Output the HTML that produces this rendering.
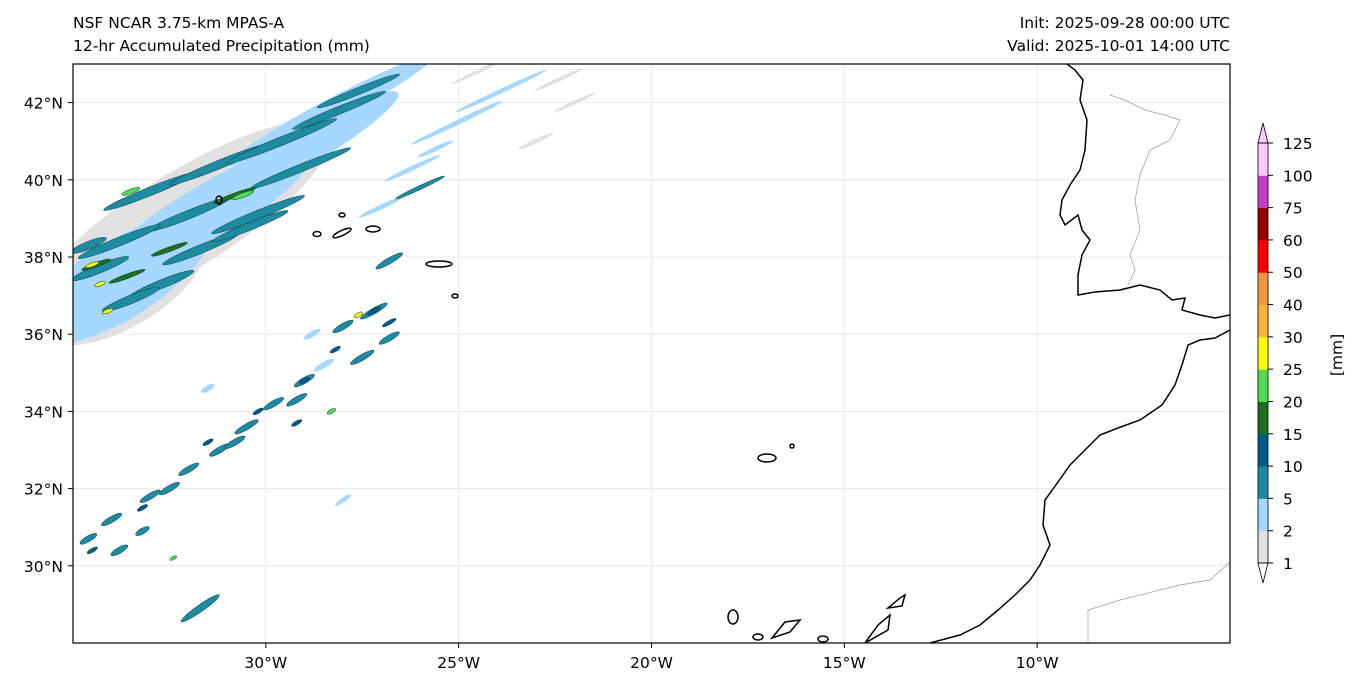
<!DOCTYPE html>
<html><head><meta charset="utf-8">
<style>
body{margin:0;background:#fff;width:1361px;height:687px;overflow:hidden}
svg text{font-family:"DejaVu Sans","Liberation Sans",sans-serif;font-size:15.5px;fill:#000}
</style></head>
<body>
<svg id="chart" width="1361" height="687" xmlns="http://www.w3.org/2000/svg">
<text x="73" y="28">NSF NCAR 3.75-km MPAS-A</text>
<text x="73" y="51">12-hr Accumulated Precipitation (mm)</text>
<text x="1230" y="28" text-anchor="end">Init: 2025-09-28 00:00 UTC</text>
<text x="1230" y="51" text-anchor="end">Valid: 2025-10-01 14:00 UTC</text>
<defs><clipPath id="clip"><rect x="73" y="64" width="1157" height="579"/></clipPath></defs>
<g id="grid"></g>
<g id="precip" clip-path="url(#clip)"></g>
<g clip-path="url(#clip)" fill="none" stroke="#000" stroke-width="1.5">
<path d="M1067,64 L1075,70 L1083,80 L1080,100 L1087,120 L1085,150 L1080,170 L1070,185 L1062,200 L1060,215 L1065,225 L1078,215 L1082,230 L1090,240 L1082,255 L1078,275 L1078,295 L1095,292 L1120,290 L1140,285 L1160,290 L1172,300 L1185,298 L1182,310 L1200,315 L1215,318 L1230,315"/>
<path d="M1230,330 L1215,338 L1200,340 L1188,345 L1182,365 L1175,385 L1162,405 L1140,420 L1118,428 L1100,435 L1085,450 L1070,465 L1058,482 L1045,500 L1043,525 L1050,545 L1040,565 L1030,580 L1015,595 L998,610 L980,625 L960,635 L930,643"/>
<path stroke="#999" stroke-width="0.7" d="M1110,95 L1125,100 L1145,110 L1165,115 L1180,120 L1170,140 L1150,150 L1140,175 L1135,200 L1140,230 L1130,255 L1135,270 L1128,285"/>
<path stroke="#999" stroke-width="0.7" d="M1088,643 L1088,610 L1120,600 L1180,585 L1210,580 L1230,562"/>
<ellipse cx="342" cy="215" rx="3" ry="2"/>
<ellipse cx="342" cy="233" rx="10" ry="2.5" transform="rotate(-25 342 233)"/>
<ellipse cx="317" cy="234" rx="4" ry="2.5"/>
<ellipse cx="373" cy="229" rx="7" ry="3"/>
<ellipse cx="439" cy="264" rx="13" ry="3"/>
<ellipse cx="455" cy="296" rx="3" ry="2"/>
<ellipse cx="219" cy="200" rx="3" ry="4"/>
<ellipse cx="767" cy="458" rx="9" ry="4"/>
<ellipse cx="792" cy="446" rx="2" ry="2"/>
<ellipse cx="733" cy="617" rx="5" ry="7"/>
<path d="M772,638 L785,622 L800,620 L790,632 Z"/>
<ellipse cx="758" cy="637" rx="5" ry="3"/>
<ellipse cx="823" cy="639" rx="5" ry="3"/>
<path d="M865,643 L878,625 L890,615 L888,630 Z"/>
<path d="M888,608 L900,598 L905,595 L902,606 Z"/>
</g>
<rect x="73" y="64" width="1157" height="579" fill="none" stroke="#000" stroke-width="1.2"/>
<g id="axes"></g>
<g id="cbar"></g>
<text x="1342" y="355" text-anchor="middle" transform="rotate(-90 1342 355)">[mm]</text>
</svg>
<script>
const lonTicks=[-30,-25,-20,-15,-10];
const latTicks=[30,32,34,36,38,40,42];
const levels=[1,2,5,10,15,20,25,30,40,50,60,75,100,125];
const levelColors=["#e1e1e1","#a5d7ff","#1e8ca0","#005a8c","#1e6e1e","#50dc50","#ffff00","#fcb432","#f0963c","#ff0000","#960000","#c83cc8","#ffc8ff"];
// streaks: lon, lat, length(deg), width(deg), level index, angle(deg)
const sLon=[-32.2,-33.8,-34.0,
 -33.8,-31.7,-29.6,-28.3,-34.0,
 -33.0,-31.2,-29.6,-28.1,-32.0,-30.2,-33.8,-31.7,-34.3,-32.7,-30.4,-29.1,-27.6,-33.5,-34.6,
 -30.8,-32.5,-33.6,-34.4,
 -23.9,-25.2,-26.2,-27.0,-24.6,-22.4,-25.6,-23.0,
 -26.8,-27.2,-28.0,-27.5,-26.8,-29.0,-29.8,-30.5,-31.2,-32.0,-33.0,-34.0,-34.6,-28.5,-29.2,-30.8,-32.5,-33.8,-28.8,-31.5,-33.2,
 -27.2,-28.2,-29.0,-30.2,-31.5,-33.2,-34.5,-26.8,-29.2,
 -34.5,-33.5,-30.6,-27.6,-28.3,-34.3,-34.1,-32.4,
 -31.7,-28.0,-24.5,-22.0,-26.0];
const sLat=[38.9,37.3,36.6,
 37.4,39.0,40.5,41.8,36.7,
 39.7,40.4,41.0,41.8,39.1,39.1,38.4,38.2,37.7,37.3,38.8,40.3,42.3,36.9,38.3,
 39.6,38.2,37.5,37.8,
 42.3,41.4,40.3,39.3,41.7,42.6,40.8,41.0,
 37.9,36.6,36.2,35.4,35.9,34.8,34.2,33.6,33.0,32.5,31.8,31.2,30.7,35.2,34.3,33.2,32.0,30.4,36.0,34.6,30.9,
 36.6,35.6,34.8,34.0,33.2,31.5,30.4,36.3,33.7,
 37.8,39.7,39.6,36.5,34.0,37.3,36.6,30.2,
 28.9,31.7,42.8,42.0,39.8];
const sLen=[9,5,3,
 5.5,7,7,6,3,
 2.6,2.8,3.1,2.6,2.3,2.6,2.3,2.1,1.6,1.8,2.1,2.8,2.3,1.6,1.0,
 1.2,1.0,1.0,0.8,
 2.6,2.3,1.6,1.3,1.6,1.4,1.0,1.0,
 0.8,0.8,0.6,0.7,0.6,0.6,0.6,0.7,0.6,0.6,0.6,0.6,0.5,0.6,0.6,0.6,0.6,0.5,0.5,0.4,0.4,
 0.4,0.3,0.3,0.3,0.3,0.3,0.3,0.4,0.3,
 0.35,0.5,0.6,0.25,0.25,0.3,0.3,0.2,
 1.2,0.5,1.5,1.2,1.4];
const sWid=[2.5,2.3,1.2,
 2.0,1.5,1.0,0.6,1.0,
 0.22,0.22,0.22,0.2,0.22,0.22,0.22,0.22,0.22,0.22,0.2,0.2,0.18,0.22,0.2,
 0.12,0.12,0.12,0.12,
 0.12,0.12,0.12,0.12,0.12,0.1,0.12,0.12,
 0.15,0.15,0.15,0.15,0.15,0.15,0.15,0.15,0.15,0.15,0.15,0.15,0.15,0.15,0.15,0.15,0.15,0.15,0.15,0.15,0.15,
 0.1,0.1,0.1,0.1,0.1,0.1,0.1,0.1,0.1,
 0.1,0.12,0.12,0.1,0.1,0.1,0.1,0.08,
 0.18,0.12,0.1,0.1,0.1];
const sLev=[0,0,0,
 1,1,1,1,1,
 2,2,2,2,2,2,2,2,2,2,2,2,2,2,2,
 4,4,4,4,
 1,1,1,1,1,0,1,0,
 2,2,2,2,2,2,2,2,2,2,2,2,2,1,2,2,2,2,1,1,2,
 3,3,3,3,3,3,3,3,3,
 6,5,5,6,5,6,6,5,
 2,1,0,0,2];
const sAng=[-32,-30,-25,
 -32,-32,-30,-28,-25,
 -22,-22,-22,-22,-22,-22,-22,-22,-22,-22,-22,-22,-22,-22,-22,
 -20,-20,-20,-20,
 -25,-25,-25,-25,-25,-25,-25,-25,
 -30,-30,-30,-30,-30,-30,-30,-30,-30,-30,-30,-30,-30,-30,-30,-30,-30,-30,-30,-30,-30,
 -30,-30,-30,-30,-30,-30,-30,-30,-30,
 -20,-20,-20,-30,-30,-20,-20,-30,
 -35,-35,-25,-25,-25];
const X=lon=>73+(lon+35)*1157/30;
const Y=lat=>64+(43-lat)*579/15;
const NS="http://www.w3.org/2000/svg";
function mk(t,a,p){const e=document.createElementNS(NS,t);for(const k in a)e.setAttribute(k,a[k]);p.appendChild(e);return e;}
const grid=document.getElementById('grid'),axes=document.getElementById('axes');
lonTicks.forEach(l=>{const x=X(l);
 const g=mk('line',{x1:x,x2:x,y1:64,y2:643,stroke:'#e4e4e4','stroke-width':0.8},grid);
 
 const t=mk('line',{x1:x,x2:x,y1:643,y2:648,stroke:'#000'},axes);
 
 const tx=mk('text',{x:x,y:668,'text-anchor':'middle'},axes);tx.textContent=(-l)+'°W';
 });
latTicks.forEach(l=>{const y=Y(l);
 const g=mk('line',{x1:73,x2:1230,y1:y,y2:y,stroke:'#e4e4e4','stroke-width':0.8},grid);
 
 const t=mk('line',{x1:68,x2:73,y1:y,y2:y,stroke:'#000'},axes);
 
 const tx=mk('text',{x:63,y:y+6,'text-anchor':'end'},axes);tx.textContent=l+'°N';
 });
const pg=document.getElementById('precip');
const k=1157/30;
for(let i=0;i<sLon.length;i++){const cx=X(sLon[i]),cy=Y(sLat[i]);
 const e=mk('ellipse',{cx:cx,cy:cy,rx:sLen[i]*k/2,ry:sWid[i]*k/2,fill:levelColors[sLev[i]],stroke:sLev[i]>=2?'#0a3c50':'none','stroke-width':0.5,transform:`rotate(${sAng[i]} ${cx} ${cy})`},pg);
 }
const cb=document.getElementById('cbar');
const cbY=v=>{const i=levels.indexOf(v);return 563-i*(563-143)/13;};
for(let i=0;i<levels.length-1;i++){
 const r=mk('rect',{x:1258,y:cbY(levels[i+1]),width:10,height:cbY(levels[i])-cbY(levels[i+1])+0.5,fill:levelColors[i]},cb);
 }
const lo=mk('polygon',{points:`1258,563 1268,563 1263,583`,fill:'#fff',stroke:'#000','stroke-width':0.8},cb);

const hi=mk('polygon',{points:`1258,143 1268,143 1263,123`,fill:levelColors[12],stroke:'#000','stroke-width':0.8},cb);

const fr=mk('rect',{x:1258,y:143,width:10,height:420,fill:'none',stroke:'#000','stroke-width':0.8},cb);

levels.forEach(v=>{const y=cbY(v);
 const t=mk('line',{x1:1268,x2:1273,y1:y,y2:y,stroke:'#000'},cb);
 
 const tx=mk('text',{x:1283,y:y+6},cb);tx.textContent=v;
 });
</script>
</body></html>
